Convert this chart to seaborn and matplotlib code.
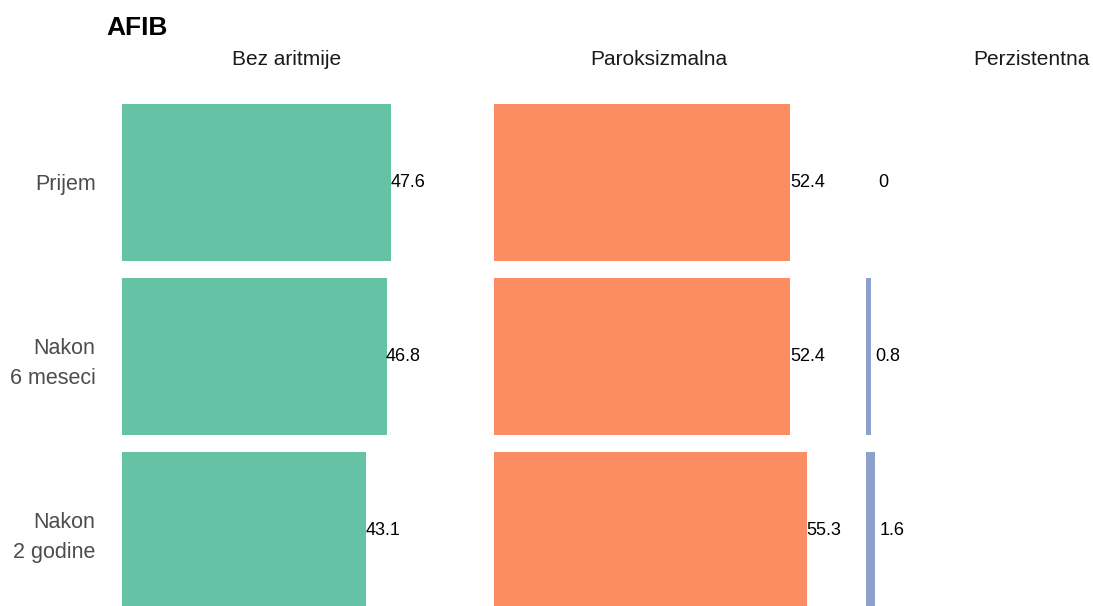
import matplotlib
matplotlib.use("Agg")
import matplotlib.pyplot as plt
import seaborn as sns
import pandas as pd

# Timepoints (rows) and rhythm groups (panels)
timepoints = ["Prijem", "Nakon\n6 meseci", "Nakon\n2 godine"]
groups = ["Bez aritmije", "Paroksizmalna", "Perzistentna"]

# Percentage of patients per group at each timepoint
bez_aritmije = [47.6, 46.8, 43.1]
paroksizmalna = [52.4, 52.4, 55.3]
perzistentna = [0.0, 0.8, 1.6]

colors = ["#66c2a5", "#fc8d62", "#8da0cb"]

df = pd.DataFrame({
    "vreme": timepoints * 3,
    "grupa": sum([[g] * 3 for g in groups], []),
    "procenat": bez_aritmije + paroksizmalna + perzistentna,
})

sns.set_theme(style="white")
plt.rcParams["font.family"] = ["Liberation Sans", "DejaVu Sans"]

W, H = 1093, 606
fig = plt.figure(figsize=(W / 100, H / 100), dpi=100)

panel_w = 330
lefts = [122, 494, 866]
top_px, bottom_px = 96, 606
xmax = panel_w / 5.655

for i, (grp, left) in enumerate(zip(groups, lefts)):
    ax = fig.add_axes([left / W, 1 - bottom_px / H, panel_w / W,
                       (bottom_px - top_px) / H])
    sub = df[df["grupa"] == grp]
    sns.barplot(data=sub, x="procenat", y="vreme", order=timepoints,
                color=colors[i], width=0.9, saturation=1, ax=ax,
                edgecolor="none")
    for j, v in enumerate(sub["procenat"]):
        ax.text(v + 3, j, f"{v:g}", ha="center", va="center",
                fontsize=13, color="black")
    ax.set_xlim(0, xmax)
    ax.set_ylim(2.434, -0.497)
    ax.set_xlabel("")
    ax.set_ylabel("")
    ax.set_xticks([])
    ax.set_title(grp, fontsize=15, color="#1a1a1a", pad=22)
    for s in ax.spines.values():
        s.set_visible(False)
    if i == 0:
        ax.tick_params(axis="y", length=0, pad=19, labelsize=15.5,
                       labelcolor="#4d4d4d")
        for lbl in ax.get_yticklabels():
            lbl.set_linespacing(1.55)
    else:
        ax.set_yticks([])

fig.text(106 / W, 1 - 28 / H, "AFIB", fontsize=19, fontweight="bold",
         ha="left", va="center", color="black")

fig.savefig("out.png", dpi=100)
